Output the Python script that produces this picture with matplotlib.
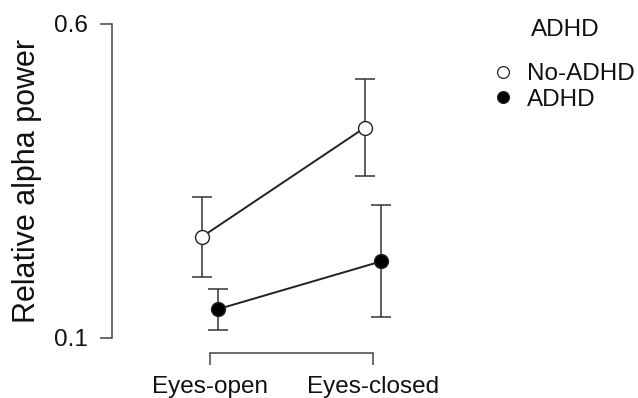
import matplotlib
matplotlib.use("Agg")
import matplotlib.pyplot as plt
from matplotlib.lines import Line2D

plt.rcParams['font.family'] = ['Liberation Sans', 'DejaVu Sans']

conditions = ["Eyes-open", "Eyes-closed"]
groups = ["No-ADHD", "ADHD"]
means = {"No-ADHD": [0.261, 0.435], "ADHD": [0.146, 0.222]}
upper = {"No-ADHD": [0.324, 0.512], "ADHD": [0.178, 0.311]}
lower = {"No-ADHD": [0.197, 0.358], "ADHD": [0.112, 0.134]}
y_ticks = [0.1, 0.6]

faces = {"No-ADHD": "white", "ADHD": "black"}
dodge = {"No-ADHD": -0.05, "ADHD": 0.05}

fig = plt.figure(figsize=(6.38, 3.98), dpi=100)
ax = fig.add_axes([112 / 638, 45 / 398, 358 / 638, 329 / 398])

dark = "#222222"
for g in groups:
    xs = [i + dodge[g] for i in range(len(conditions))]
    m = means[g]
    err = [[mm - lo for mm, lo in zip(m, lower[g])],
           [hi - mm for mm, hi in zip(m, upper[g])]]
    ax.errorbar(xs, m, yerr=err, fmt="none", ecolor="#333333",
                elinewidth=1.1, capsize=7.5, capthick=1.1, zorder=2)
    ax.plot(xs, m, color=dark, lw=1.4, zorder=3)
    ax.plot(xs, m, "o", ms=10, mfc=faces[g], mec=dark, mew=1.0, zorder=4)

ax.set_xlim(-0.601, 1.595)
ax.set_ylim(0.1 - 15 / 628, 0.6)

for s in ["top", "right"]:
    ax.spines[s].set_visible(False)
ax.spines["left"].set_bounds(0.1, 0.6)
ax.spines["bottom"].set_bounds(0, 1)
for s in ["left", "bottom"]:
    ax.spines[s].set_color("#444444")
    ax.spines[s].set_linewidth(1.1)

ax.set_xticks(range(len(conditions)))
ax.set_xticklabels(conditions)
ax.set_yticks(y_ticks)
ax.set_yticklabels([f"{v:.1f}" for v in y_ticks])
ax.tick_params(axis="both", length=8.6, width=1.1, color="#444444",
               labelsize=17.5, labelcolor="#111111")
ax.tick_params(axis="x", pad=8)
ax.tick_params(axis="y", pad=9)

ax.set_ylabel("Relative alpha power", fontsize=22, color="#111111")
ax.yaxis.set_label_coords(-70 / 358, 0.5 * (1 - 15 / 329) + 15 / 329)

# legend: title set apart from the entries
fig.text(565 / 638, 1 - 30 / 398, "ADHD", ha="center", va="center",
         fontsize=17.5, color="#111111")
handles = [Line2D([], [], marker="o", ls="none", ms=8.5, mfc=faces[g],
                  mec=dark, mew=0.9) for g in groups]
leg = fig.legend(handles, groups, loc="upper left",
                 bbox_to_anchor=(488 / 638, 1 - 63 / 398), frameon=False,
                 fontsize=17.5, handletextpad=0.4, borderpad=0,
                 labelspacing=0.15, handlelength=1.2, borderaxespad=0)
for t in leg.get_texts():
    t.set_color("#111111")

fig.savefig("out.png", dpi=100)
